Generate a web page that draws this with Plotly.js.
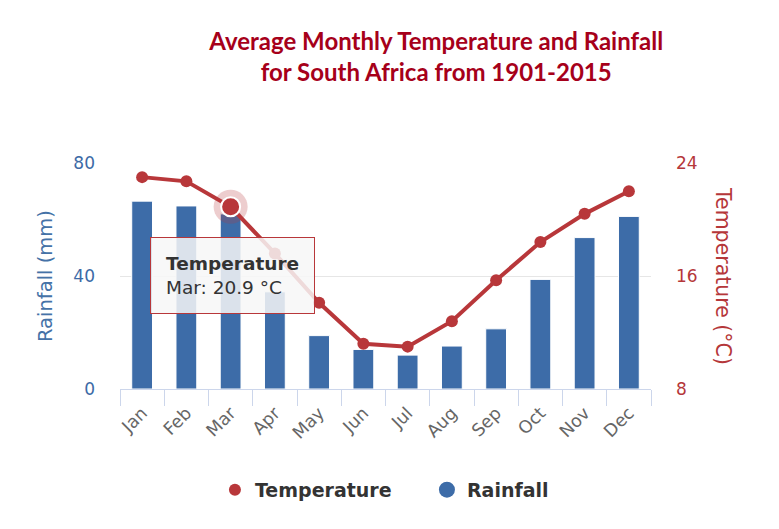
<!DOCTYPE html>
<html>
<head>
<meta charset="utf-8">
<script src="https://cdn.plot.ly/plotly-3.0.1.min.js"></script>
<style>html,body{margin:0;padding:0;background:#fff;}#chart{width:779px;height:529px;}</style>
</head>
<body>
<div id="chart"></div>
<script>
const months = ['Jan','Feb','Mar','Apr','May','Jun','Jul','Aug','Sep','Oct','Nov','Dec'];
const rainfall = [66.5, 64.8, 62.0, 34.4, 18.9, 14.0, 12.0, 15.2, 21.3, 38.8, 53.6, 61.1];
const temperature = [23.0, 22.7, 20.9, 17.6, 14.1, 11.2, 11.0, 12.8, 15.7, 18.4, 20.4, 22.0];
const rainTicks = [0, 40, 80];
const tempTicks = [8, 16, 24];
const hoverIndex = 2;

const RED = '#b8373a';
const BLUE = '#3d6ca8';
const FONT = 'DejaVu Sans, Open Sans, sans-serif';

const traces = [
  {type:'bar', x: months, y: rainfall, name:'Rainfall', yaxis:'y',
   marker:{color: BLUE, line:{color:'#ffffff', width:1}}, showlegend:false, hoverinfo:'skip'},
  {type:'scatter', mode:'lines', x: months, y: temperature, yaxis:'y2',
   line:{color: RED, width:4}, showlegend:false, hoverinfo:'skip'},
  {type:'scatter', mode:'markers', x:[months[hoverIndex]], y:[temperature[hoverIndex]], yaxis:'y2',
   marker:{color:'rgba(184,55,58,0.25)', size:34}, showlegend:false, hoverinfo:'skip'},
  {type:'scatter', mode:'markers', x: months, y: temperature, yaxis:'y2', name:'Temperature',
   marker:{color: RED, size:12}, showlegend:true, legendwidth:167, hoverinfo:'skip'},
  {type:'scatter', mode:'markers', x:[months[hoverIndex]], y:[temperature[hoverIndex]], yaxis:'y2',
   marker:{color: RED, size:19, line:{color:'#ffffff', width:2}}, showlegend:false, hoverinfo:'skip'},
  {type:'scatter', mode:'markers', x:[null], y:[null], yaxis:'y', name:'Rainfall',
   marker:{color: BLUE, size:20}, showlegend:true, hoverinfo:'skip'}
];

const layout = {
  width:779, height:529,
  margin:{l:120, r:128, t:163, b:140},
  paper_bgcolor:'#fff', plot_bgcolor:'#fff',
  font:{family: FONT, color:'#333'},
  hovermode:false,
  bargap:0.53,
  title:{
    text:'<b>Average Monthly Temperature and Rainfall<br>for South Africa from 1901-2015</b>',
    font:{family:'Lato, DejaVu Sans Condensed, sans-serif', size:24, color:'#a6001a'},
    x:0.56, xref:'container', xanchor:'center',
    y:0.905, yref:'container', yanchor:'top'
  },
  xaxis:{
    type:'category', categoryarray: months, range:[-0.5, 11.5],
    showgrid:false, zeroline:false,
    showline:true, linecolor:'#ccd6eb', linewidth:1,
    ticks:'outside', tickson:'boundaries', ticklen:16, tickcolor:'#ccd6eb', tickwidth:1,
    ticklabelstandoff:6,
    tickangle:-45, tickfont:{size:17.5, color:'#666', family: FONT}
  },
  yaxis:{
    range:[0,80], tickvals: rainTicks, ticktext: rainTicks.map(String),
    showgrid:true, gridcolor:'#e6e6e6', gridwidth:1, zeroline:false, showline:false,
    ticks:'', ticklabelstandoff:24,
    tickfont:{size:17, color:'#3d6aa6', family: FONT}
  },
  yaxis2:{
    range:[8,24], tickvals: tempTicks, ticktext: tempTicks.map(String),
    overlaying:'y', side:'right',
    showgrid:false, zeroline:false, showline:false,
    ticks:'', ticklabelstandoff:24,
    tickfont:{size:17, color:'#b5373a', family: FONT}
  },
  legend:{
    orientation:'h', xref:'container', x:0.4935, xanchor:'center',
    yref:'container', y:0.074, yanchor:'middle',
    font:{size:19, color:'#333', family:'DejaVu Sans, sans-serif', weight:'bold'},
    itemsizing:'trace', bgcolor:'rgba(0,0,0,0)'
  },
  annotations:[
    {xref:'paper', yref:'paper', x:0, y:0.5, xshift:-75, xanchor:'center', yanchor:'middle',
     text:'Rainfall (mm)', textangle:-90, showarrow:false,
     font:{size:19.5, color:'#4572a7', family: FONT}},
    {xref:'paper', yref:'paper', x:1, y:0.5, xshift:72, xanchor:'center', yanchor:'middle',
     text:'Temperature (°C)', textangle:90, showarrow:false,
     font:{size:20.5, color:'#b5373a', family: FONT}},
    {xref:'x', yref:'y2', x: months[hoverIndex], y: temperature[hoverIndex],
     xanchor:'center', yanchor:'top', yshift:-30, xshift:2,
     text:'<b>Temperature</b><br>' + months[hoverIndex] + ': ' + temperature[hoverIndex].toFixed(1) + ' °C',
     align:'left', showarrow:false,
     bgcolor:'rgba(247,247,247,0.85)', bordercolor:'#b8373a', borderwidth:1, borderpad:15,
     font:{size:18.5, color:'#333', family: FONT}}
  ]
};

Plotly.newPlot('chart', traces, layout, {displayModeBar:false, staticPlot:true});
</script>
</body>
</html>
